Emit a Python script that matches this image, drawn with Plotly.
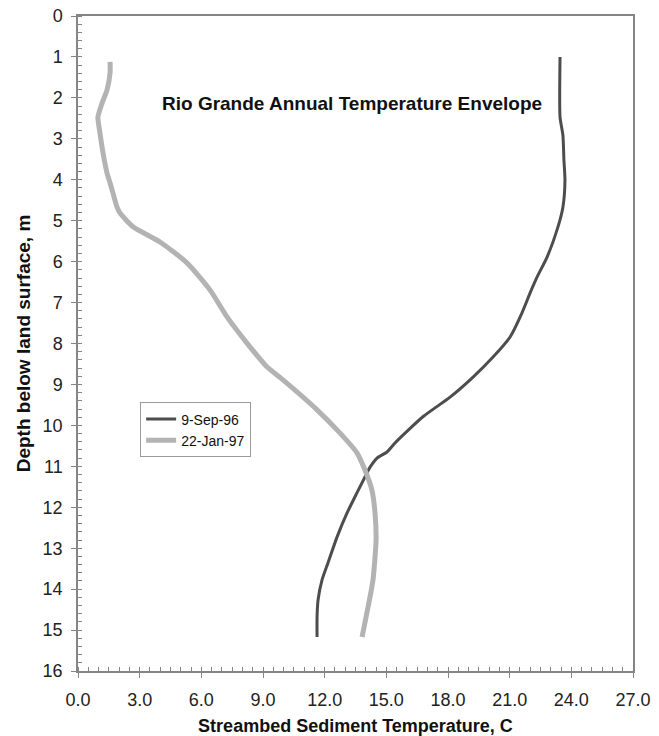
import plotly.graph_objects as go

# Temperature profiles (deg C) versus depth below land surface (m)
sep96_temp = [23.45, 23.45, 23.59, 23.64, 23.69, 23.59, 23.35, 22.82, 22.33, 21.99,
              21.60, 21.02, 20.19, 19.22, 18.10, 16.78, 15.42, 15.03, 14.55, 14.21,
              13.96, 13.57, 13.09, 12.60, 12.16, 11.87, 11.68, 11.63, 11.63]
sep96_depth = [1.00, 2.47, 2.91, 3.52, 4.01, 4.67, 5.15, 5.89, 6.38, 6.77,
               7.25, 7.84, 8.33, 8.82, 9.31, 9.79, 10.43, 10.65, 10.80, 11.02,
               11.26, 11.65, 12.14, 12.73, 13.36, 13.78, 14.26, 14.68, 15.17]

jan97_temp = [1.56, 1.56, 1.41, 1.17, 0.97, 1.07, 1.22, 1.41, 1.56, 1.70,
              1.90, 2.04, 2.68, 3.99, 5.30, 6.42, 7.25, 8.22, 9.19, 9.97,
              11.63, 12.75, 13.57, 13.96, 14.30, 14.45, 14.50, 14.35, 14.11, 13.82]
jan97_depth = [1.12, 1.39, 1.81, 2.13, 2.47, 2.86, 3.35, 3.83, 4.08, 4.32,
               4.67, 4.81, 5.15, 5.52, 6.03, 6.69, 7.35, 7.99, 8.57, 8.89,
               9.62, 10.19, 10.67, 11.09, 11.58, 12.14, 12.80, 13.78, 14.44, 15.17]

x_ticks = [0, 3, 6, 9, 12, 15, 18, 21, 24, 27]
x_tick_labels = ["0.0", "3.0", "6.0", "9.0", "12.0", "15.0", "18.0", "21.0", "24.0", "27.0"]

FONT = "Arial, Liberation Sans, sans-serif"
AXIS_GRAY = "#858585"

fig = go.Figure()
fig.add_trace(go.Scatter(
    x=sep96_temp, y=sep96_depth, mode="lines", name="9-Sep-96",
    line=dict(color="#4d4d4d", width=3, shape="spline", smoothing=0.6),
))
fig.add_trace(go.Scatter(
    x=jan97_temp, y=jan97_depth, mode="lines", name="22-Jan-97",
    line=dict(color="#b3b3b3", width=5, shape="spline", smoothing=0.6),
))

fig.add_annotation(
    text="<b>Rio Grande Annual Temperature Envelope</b>",
    xref="paper", yref="paper", x=0.494, y=0.866, yanchor="middle",
    showarrow=False, font=dict(family=FONT, size=19, color="#111111"),
)

axis_common = dict(
    showline=True, linecolor=AXIS_GRAY, linewidth=1.5, mirror=True,
    showgrid=False, zeroline=False, automargin=False,
    ticks="outside", ticklen=5, tickcolor=AXIS_GRAY, tickwidth=1,
    tickfont=dict(family=FONT, size=18, color="#222222"),
)

fig.update_xaxes(
    range=[0, 27], tickvals=x_ticks, ticktext=x_tick_labels,
    ticklabelstandoff=7,
    minor=dict(ticks="inside", dtick=0.5, ticklen=4, tickcolor=AXIS_GRAY),
    title=dict(text="<b>Streambed Sediment Temperature, C</b>",
               font=dict(family=FONT, size=18, color="#111111"), standoff=11),
    **axis_common,
)
fig.update_yaxes(
    range=[16, 0], dtick=1,
    ticklabelstandoff=5,
    minor=dict(ticks="inside", dtick=0.2, ticklen=4, tickcolor=AXIS_GRAY),
    title=dict(text="<b>Depth below land surface, m</b>",
               font=dict(family=FONT, size=19, color="#111111"), standoff=7),
    **axis_common,
)

fig.update_layout(
    width=659, height=736,
    margin=dict(l=78, r=26, t=16, b=65),
    plot_bgcolor="white", paper_bgcolor="white",
    showlegend=True,
    legend=dict(
        x=0.112, y=0.410, xanchor="left", yanchor="top",
        bordercolor="#9a9a9a", borderwidth=1, bgcolor="white",
        font=dict(family=FONT, size=14, color="#111111"),
        tracegroupgap=0, itemwidth=30, entrywidth=80,
    ),
)

fig.write_html("out.html")
